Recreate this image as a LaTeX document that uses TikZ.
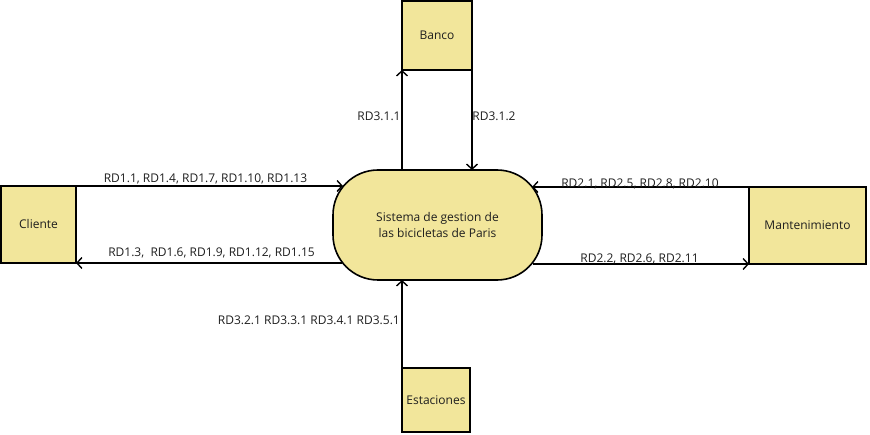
\documentclass[tikz,border=0pt]{standalone}
\usepackage{fontspec}
\setmainfont{Open Sans}
\usetikzlibrary{arrows.meta}
\newlength{\du}
\setlength{\du}{1pt}
\definecolor{diafillcolor}{RGB}{242,230,155}
\definecolor{dialinecolor}{RGB}{0,0,0}
\definecolor{diatextcolor}{RGB}{30,30,30}
\tikzset{
  entity/.style={draw=dialinecolor, fill=diafillcolor, line width=1.6\du,
    inner sep=0pt, outer sep=0pt, text=diatextcolor, align=center},
  process/.style={entity, rounded corners=45\du},
  flow/.style={draw=dialinecolor, line width=1.6\du,
    -{Straight Barb[length=5pt,width=11pt,line width=1.4pt]}},
  flowlabel/.style={inner sep=0pt, text=diatextcolor}
}
\begin{document}
\begin{tikzpicture}[x=1pt,y=1pt,font=\fontsize{12}{16}\selectfont]
\useasboundingbox (0\du,0\du) rectangle (870\du,434\du);
% entities
\node[entity, minimum width=75\du, minimum height=77\du] (cliente) at (38.5\du,209.5\du) {Cliente};
\node[entity, minimum width=70\du, minimum height=69\du] (banco) at (437\du,398.5\du) {Banco};
\node[entity, minimum width=68\du, minimum height=64\du] (estaciones) at (436\du,34\du) {Estaciones};
\node[entity, minimum width=117\du, minimum height=77\du] (mantenimiento) at (807.5\du,208.5\du) {Mantenimiento};
% process
\node[process, minimum width=209\du, minimum height=110\du] (sistema) at (437.5\du,209\du) {Sistema de gestion de\\las bicicletas de Paris};
% points on the curved sides
\coordinate (sistema-cl-in) at (343\du,248\du);
\coordinate (sistema-cl-out) at (342\du,171\du);
\coordinate (sistema-mt-in) at (532\du,247\du);
\coordinate (sistema-mt-out) at (533\du,170\du);
% flows
\draw[flow] (cliente.north east) -- (sistema-cl-in);
\draw[flow] (sistema-cl-out) -- (cliente.south east);
\draw[flow] (banco.south west |- sistema.north) -- (banco.south west);
\draw[flow] (banco.south east) -- (banco.south east |- sistema.north);
\draw[flow] (mantenimiento.north west) -- (sistema-mt-in);
\draw[flow] (sistema-mt-out) -- (mantenimiento.south west);
\draw[flow] (estaciones.north west) -- (estaciones.north west |- sistema.south);
% was here!!!
\node[flowlabel] (lbl-cl-in) at (205.5\du,255.5\du) {RD1.1, RD1.4, RD1.7, RD1.10, RD1.13};
\node[flowlabel] (lbl-cl-out) at (211.5\du,181\du) {RD1.3, \ RD1.6, RD1.9, RD1.12, RD1.15};
\node[flowlabel] (lbl-bc-in) at (379\du,318\du) {RD3.1.1};
\node[flowlabel] (lbl-bc-out) at (494\du,318\du) {RD3.1.2};
\node[flowlabel] (lbl-mt-in) at (640\du,250.5\du) {RD2.1, RD2.5, RD2.8, RD2.10};
\node[flowlabel] (lbl-mt-out) at (639.5\du,175\du) {RD2.2, RD2.6, RD2.11};
\node[flowlabel, anchor=east] (lbl-es) at (400\du,114\du) {RD3.2.1 RD3.3.1 RD3.4.1 RD3.5.1};
\end{tikzpicture}
\end{document}
